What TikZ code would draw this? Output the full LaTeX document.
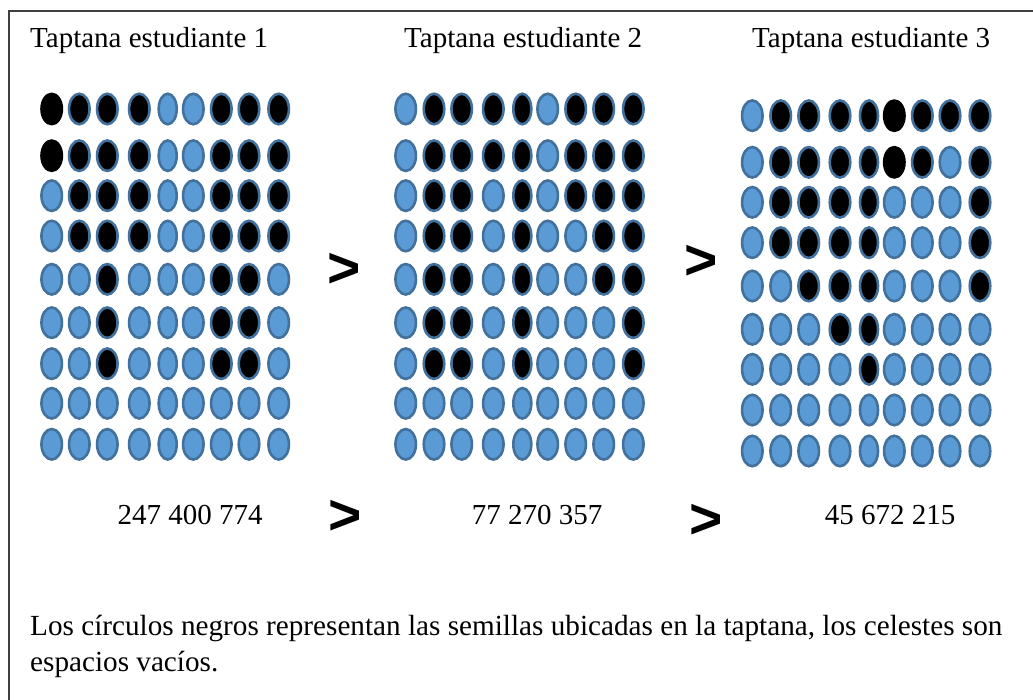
\documentclass[tikz,border=0pt]{standalone}
\usepackage{fontspec}
\setmainfont{Liberation Serif}
\newfontfamily\gtsans{Liberation Sans}
\usetikzlibrary{shapes.geometric}
\definecolor{seedblue}{HTML}{5B9BD5}
\definecolor{seededge}{HTML}{41719C}
\definecolor{framegray}{HTML}{404040}
\tikzset{
  emptyhole/.style={ellipse,draw=seededge,fill=seedblue,line width=2.6pt,inner sep=0pt,minimum height=30.5pt},
  seedhole/.style={ellipse,draw=seededge,fill=black,line width=2.6pt,inner sep=0pt,minimum height=30.5pt},
  bareseed/.style={ellipse,fill=black,inner sep=0pt,minimum height=33pt,minimum width=23pt},
  titletext/.style={anchor=base west,inner sep=0pt,font=\fontsize{29}{34}\selectfont},
  numtext/.style={anchor=base,inner sep=0pt,font=\fontsize{29}{34}\selectfont},
  notetext/.style={anchor=base west,inner sep=0pt,font=\fontsize{29.2}{34}\selectfont},
  gtsign/.style={anchor=base,inner sep=0pt,font=\gtsans\bfseries\fontsize{57}{62}\selectfont}
}
\begin{document}
\begin{tikzpicture}[x=1pt,y=-1pt]
\useasboundingbox (0,0) rectangle (1033,700);
\coordinate (fbl) at (9,700);
\coordinate (ftl) at (9,11);
\coordinate (ftr) at (1033,11);
\draw[framegray,line width=1.3pt] (fbl) -- (ftl) -- (ftr);

\node[titletext] (t1) at (30,48) {Taptana estudiante 1};
\node[titletext] (t2) at (404,48) {Taptana estudiante 2};
\node[titletext] (t3) at (752,48) {Taptana estudiante 3};

% grid 1
\foreach \cc/\xx/\dd/\ww/\ss in {1/51.7/2/20.5/2, 2/79.3/4/20.5/0, 3/107.3/7/20.5/0, 4/139.3/4/20.5/0, 5/167.7/0/18/0, 6/193.3/0/20.5/0, 7/221.3/7/20.5/0, 8/249/7/20.5/0, 9/278.7/4/20.5/0} {
  \foreach \rr/\yy in {1/109, 2/155.7, 3/195.7, 4/236, 5/279.3, 6/322.7, 7/363.7, 8/403.3, 9/444.3} {
    \ifnum\rr>\dd\relax
      \node[emptyhole,minimum width=\ww pt] (sa-\rr-\cc) at (\xx,\yy) {};
    \else\ifnum\rr>\ss\relax
      \node[seedhole,minimum width=\ww pt] (sa-\rr-\cc) at (\xx,\yy) {};
    \else
      \node[bareseed] (sa-\rr-\cc) at (\xx,\yy) {};
    \fi\fi
  }
}
% grid 2
\foreach \cc/\xx/\dd/\ww in {1/405.7/0/20.5, 2/434/7/20.5, 3/461.7/7/20.5, 4/493.3/2/20.5, 5/522.3/7/18, 6/547.7/0/20.5, 7/575.7/3/20.5, 8/603.7/5/20.5, 9/633.3/7/20.5} {
  \foreach \rr/\yy in {1/109, 2/155.7, 3/195.7, 4/236, 5/279.3, 6/322.7, 7/363.7, 8/403.3, 9/444.3} {
    \ifnum\rr>\dd\relax
      \node[emptyhole,minimum width=\ww pt] (sb-\rr-\cc) at (\xx,\yy) {};
    \else
      \node[seedhole,minimum width=\ww pt] (sb-\rr-\cc) at (\xx,\yy) {};
    \fi
  }
}
% grid 3
\foreach \cc/\xx/\dd/\ww/\ss in {1/752.3/0/20.5/0, 2/780.7/4/20.5/0, 3/808.7/5/20.5/0, 4/840/6/20.5/0, 5/869/7/18/0, 6/894.3/2/20.5/2, 7/922.3/2/20.5/0, 8/950/1/20.5/0, 9/980/5/20.5/0} {
  \foreach \rr/\yy in {1/115.7, 2/162.3, 3/202.3, 4/242.7, 5/286, 6/329.3, 7/369.3, 8/410, 9/451} {
    \ifnum\rr>\dd\relax
      \node[emptyhole,minimum width=\ww pt] (sc-\rr-\cc) at (\xx,\yy) {};
    \else\ifnum\rr>\ss\relax
      \node[seedhole,minimum width=\ww pt] (sc-\rr-\cc) at (\xx,\yy) {};
    \else
      \node[bareseed] (sc-\rr-\cc) at (\xx,\yy) {};
    \fi\fi
  }
}

\node[gtsign] (g1) at (344,288) {>};
\node[gtsign] (g2) at (701,280) {>};
\node[gtsign] (g3) at (345,534) {>};
\node[gtsign] (g4) at (706,538) {>};

\node[numtext] (n1) at (190,524) {247 400 774};
\node[numtext] (n2) at (537,524) {77 270 357};
\node[numtext] (n3) at (890,524) {45 672 215};

\node[notetext] (l1) at (30,635) {Los círculos negros representan las semillas ubicadas en la taptana, los celestes son};
\node[notetext] (l2) at (30,671) {espacios vacíos.};
\end{tikzpicture}
\end{document}
